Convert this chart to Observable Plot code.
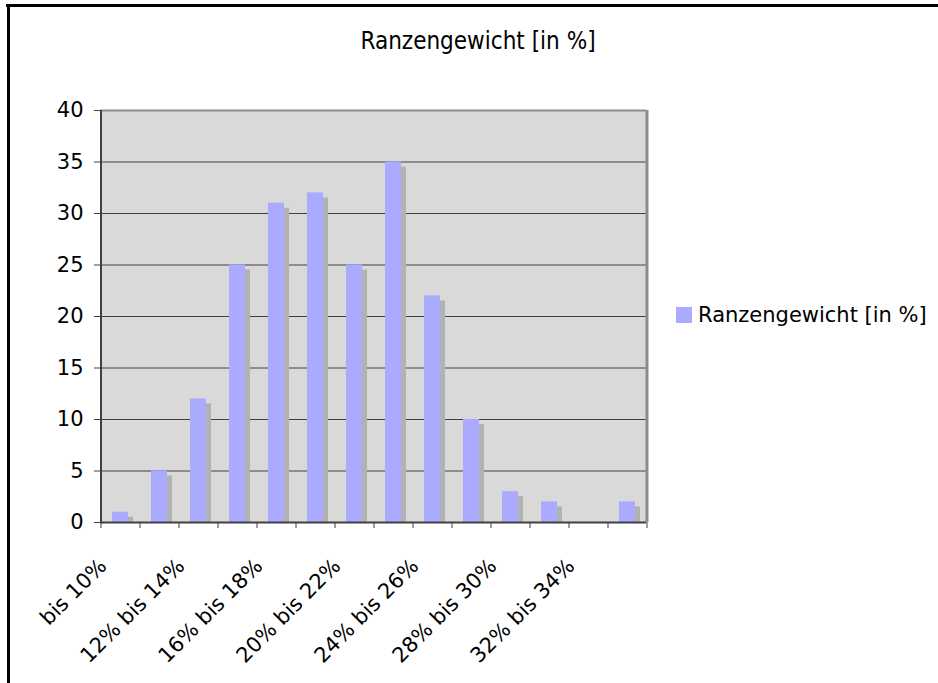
<!DOCTYPE html>
<html>
<head>
<meta charset="utf-8">
<script src="https://cdn.jsdelivr.net/npm/d3@7"></script>
<script src="https://cdn.jsdelivr.net/npm/@observablehq/plot@0.6"></script>
<style>
  body { margin: 0; background: #fff; }
  #wrap { position: relative; width: 938px; height: 683px; overflow: hidden; font-family: "DejaVu Sans", sans-serif; }
  #chart { position: absolute; left: 0; top: 0; }
  #frameTop { position: absolute; left: 6px; top: 4px; width: 932px; height: 3px; background: #000; }
  #frameLeft { position: absolute; left: 7px; top: 4px; width: 3px; height: 679px; background: #000; }
  #title { position: absolute; top: 27px; left: 0; width: 956px; text-align: center; font: 24px "DejaVu Sans Condensed", "DejaVu Sans", sans-serif; color: #000; }
  #legend { position: absolute; left: 676px; top: 303px; display: flex; align-items: center; font: 21px "DejaVu Sans", sans-serif; color: #000; white-space: nowrap; }
  #legend .sw { width: 16px; height: 16px; background: #aaaaff; margin-right: 6px; }
</style>
</head>
<body>
<div id="wrap">
  <div id="chart"></div>
  <div id="frameTop"></div>
  <div id="frameLeft"></div>
  <div id="title"></div>
  <div id="legend"><span class="sw"></span><span id="legendText"></span></div>
</div>
<script>
const chartTitle = "Ranzengewicht [in %]";
const seriesName = "Ranzengewicht [in %]";
const categories = ["bis 10%", "10% bis 12%", "12% bis 14%", "14% bis 16%", "16% bis 18%", "18% bis 20%", "20% bis 22%", "22% bis 24%", "24% bis 26%", "26% bis 28%", "28% bis 30%", "30% bis 32%", "32% bis 34%", "über 34%"];
const values = [1, 5, 12, 25, 31, 32, 25, 35, 22, 10, 3, 2, 0, 2];
const xTickLabels = ["bis 10%", "12% bis 14%", "16% bis 18%", "20% bis 22%", "24% bis 26%", "28% bis 30%", "32% bis 34%"];
const yTicks = [0, 5, 10, 15, 20, 25, 30, 35, 40];
const yGrid = [5, 10, 15, 20, 25, 30, 35];

document.getElementById("title").textContent = chartTitle;
document.getElementById("legendText").textContent = seriesName;

const data = categories.map((c, i) => ({cat: c, value: values[i]}));
const half = 19.5;

const plot = Plot.plot({
  width: 938,
  height: 683,
  marginLeft: 100,
  marginTop: 110,
  marginRight: 292,
  marginBottom: 161,
  style: {fontFamily: "DejaVu Sans, sans-serif", fontSize: "21px", color: "#000", background: "transparent"},
  x: {domain: categories, paddingInner: 0.59, paddingOuter: 0.295, label: null},
  y: {domain: [0, 40], label: null},
  marks: [
    Plot.frame({fill: "#d9d9d9"}),
    Plot.gridY(yGrid, {stroke: "#404040", strokeOpacity: 1, strokeWidth: 1}),
    Plot.barY(data, {x: "cat", y: "value", fill: "#b2b2b2", dx: 5, dy: 5, clip: true}),
    Plot.barY(data, {x: "cat", y: "value", fill: "#aaaaff"}),
    Plot.ruleY([40], {stroke: "#8c8c8c", strokeWidth: 2}),
    Plot.ruleX([categories[categories.length - 1]], {dx: half, stroke: "#8c8c8c", strokeWidth: 3}),
    Plot.ruleX([categories[0]], {dx: -half, stroke: "#404040", strokeWidth: 2}),
    Plot.ruleY([0], {stroke: "#404040", strokeWidth: 2}),
    Plot.axisY({ticks: yTicks, tickSize: 6, tickPadding: 11, stroke: "#404040", fontSize: 21}),
    Plot.axisX({ticks: categories, tickSize: 6, tickFormat: () => "", dx: -half, stroke: "#404040"}),
    Plot.axisX({ticks: [categories[categories.length - 1]], tickSize: 6, tickFormat: () => "", dx: half, stroke: "#404040"}),
    Plot.axisX({ticks: xTickLabels, tickSize: 0, tickPadding: 40, tickRotate: -45, dx: -half + 2, fontSize: 21})
  ]
});
document.getElementById("chart").appendChild(plot);
</script>
</body>
</html>
